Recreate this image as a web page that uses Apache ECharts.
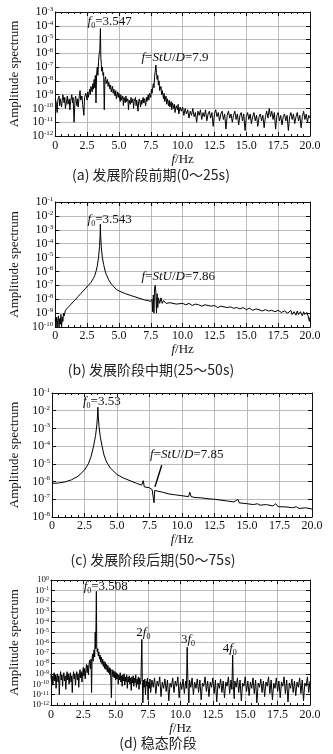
<!DOCTYPE html>
<html><head><meta charset="utf-8">
<script src="https://cdn.jsdelivr.net/npm/echarts@6/dist/echarts.min.js"></script>
<style>html,body{margin:0;padding:0;background:#fff}#c{width:333px;height:754px}</style>
</head><body><div id="c"></div>
<script>
// x tick labels
const xTicks = ['0','2.5','5.0','7.5','10.0','12.5','15.0','17.5','20.0'];
// y ranges (log10 exponent) per panel
const yExpA = [-12, -3], yExpB = [-10, -1], yExpC = [-8, -1], yExpD = [-12, 0];
// captions
const captions = ['(a) 发展阶段前期(0～25s)', '(b) 发展阶段中期(25～50s)', '(c) 发展阶段后期(50～75s)', '(d) 稳态阶段'];
// data: [frequency Hz, log10(amplitude)]
const specA = [[0,-9.3],[0.1,-9.7],[0.15,-10.3],[0.2,-9.4],[0.3,-9.1],[0.35,-9.8],[0.4,-9.3],[0.5,-9.9],[0.55,-9.4],[0.6,-9.0],[0.7,-9.6],[0.75,-9.2],[0.8,-10.0],[0.9,-9.4],[0.95,-9.1],[1.0,-9.7],[1.1,-9.3],[1.15,-10.1],[1.2,-9.5],[1.3,-9.0],[1.35,-9.6],[1.4,-9.2],[1.48,-11.0],[1.55,-9.4],[1.6,-9.1],[1.7,-9.8],[1.75,-9.3],[1.8,-9.9],[1.9,-9.0],[1.95,-8.7],[2.0,-9.4],[2.1,-9.1],[2.15,-9.7],[2.25,-10.5],[2.3,-9.2],[2.4,-8.9],[2.5,-9.4],[2.55,-8.8],[2.6,-9.2],[2.7,-8.6],[2.75,-9.0],[2.8,-8.4],[2.9,-8.8],[2.95,-8.2],[3.0,-8.6],[3.05,-7.9],[3.1,-8.5],[3.15,-7.6],[3.2,-9.6],[3.25,-7.5],[3.3,-7.0],[3.35,-7.6],[3.4,-6.6],[3.45,-6.0],[3.5,-5.8],[3.547,-4.2],[3.58,-6.3],[3.62,-6.8],[3.65,-7.3],[3.7,-7.0],[3.75,-7.6],[3.8,-7.4],[3.85,-10.1],[3.9,-7.9],[3.95,-7.7],[4.0,-8.2],[4.1,-7.9],[4.15,-8.4],[4.2,-8.1],[4.3,-8.6],[4.35,-8.3],[4.4,-8.8],[4.5,-8.4],[4.55,-8.9],[4.6,-8.6],[4.7,-9.1],[4.75,-8.7],[4.8,-9.3],[4.9,-8.8],[4.95,-9.2],[5.0,-8.9],[5.1,-9.5],[5.15,-9.0],[5.2,-9.4],[5.3,-9.1],[5.35,-9.8],[5.4,-9.2],[5.5,-9.6],[5.55,-9.1],[5.6,-9.5],[5.7,-9.3],[5.75,-10.1],[5.8,-9.4],[5.9,-9.7],[5.95,-9.2],[6.0,-9.6],[6.1,-9.3],[6.15,-10.0],[6.2,-9.5],[6.3,-9.2],[6.35,-9.8],[6.4,-9.4],[6.5,-10.2],[6.55,-9.5],[6.6,-9.3],[6.7,-9.9],[6.75,-9.4],[6.8,-9.7],[6.9,-9.2],[6.95,-9.6],[7.0,-9.3],[7.1,-9.8],[7.15,-9.2],[7.2,-9.5],[7.3,-9.0],[7.35,-9.4],[7.4,-8.9],[7.5,-9.2],[7.55,-8.6],[7.6,-8.9],[7.7,-8.2],[7.75,-8.5],[7.8,-7.7],[7.85,-7.3],[7.9,-6.85],[7.95,-7.4],[8.0,-7.9],[8.05,-7.6],[8.1,-8.3],[8.15,-8.0],[8.2,-8.7],[8.3,-8.4],[8.35,-9.0],[8.4,-8.7],[8.5,-9.3],[8.55,-8.9],[8.6,-9.5],[8.7,-9.1],[8.75,-9.7],[8.8,-9.3],[8.9,-9.8],[8.95,-9.4],[9.0,-9.9],[9.1,-9.5],[9.15,-10.1],[9.2,-9.6],[9.3,-10.0],[9.35,-9.7],[9.4,-10.3],[9.5,-9.8],[9.6,-10.1],[9.65,-9.7],[9.7,-10.4],[9.8,-9.9],[9.9,-10.2],[10.0,-9.9],[10.1,-10.5],[10.2,-10.0],[10.3,-10.4],[10.4,-10.1],[10.5,-10.7],[10.6,-10.2],[10.7,-10.5],[10.8,-10.0],[10.9,-10.6],[11.0,-10.3],[11.1,-11.0],[11.2,-10.2],[11.3,-10.5],[11.4,-10.1],[11.5,-10.8],[11.6,-10.3],[11.7,-10.6],[11.8,-10.1],[11.9,-10.9],[12.0,-10.4],[12.1,-10.2],[12.2,-10.7],[12.3,-10.3],[12.4,-11.3],[12.5,-10.4],[12.6,-10.1],[12.7,-10.6],[12.8,-10.3],[12.9,-10.9],[13.0,-10.4],[13.1,-10.2],[13.2,-10.8],[13.3,-10.4],[13.4,-11.5],[13.5,-10.5],[13.6,-10.2],[13.7,-10.7],[13.8,-10.4],[13.9,-11.0],[14.0,-10.5],[14.1,-10.2],[14.2,-10.8],[14.3,-10.4],[14.4,-11.2],[14.5,-10.5],[14.6,-10.3],[14.7,-10.9],[14.8,-10.4],[14.9,-11.6],[15.0,-10.6],[15.1,-10.3],[15.2,-10.8],[15.3,-10.4],[15.4,-11.1],[15.5,-10.6],[15.6,-10.3],[15.7,-10.9],[15.8,-10.5],[15.9,-11.3],[16.0,-10.6],[16.1,-10.4],[16.2,-10.9],[16.3,-10.5],[16.4,-11.4],[16.5,-10.6],[16.6,-10.2],[16.7,-10.7],[16.8,-10.0],[16.9,-10.6],[17.0,-10.2],[17.1,-10.8],[17.2,-10.3],[17.3,-11.5],[17.4,-10.5],[17.5,-10.3],[17.6,-10.9],[17.7,-10.5],[17.8,-11.2],[17.9,-10.6],[18.0,-10.4],[18.1,-10.9],[18.2,-10.5],[18.3,-11.6],[18.4,-10.6],[18.5,-10.3],[18.6,-10.8],[18.7,-10.4],[18.8,-11.1],[18.9,-10.6],[19.0,-10.3],[19.1,-10.9],[19.2,-10.5],[19.3,-11.4],[19.4,-10.6],[19.5,-10.2],[19.6,-10.8],[19.7,-10.4],[19.8,-11.0],[19.9,-10.5],[20.0,-10.7]];
const specB = [[0,-9.4],[0.05,-10.0],[0.1,-9.3],[0.15,-10.0],[0.2,-9.5],[0.25,-9.2],[0.3,-10.0],[0.35,-9.4],[0.4,-9.8],[0.45,-9.1],[0.5,-10.0],[0.55,-9.3],[0.6,-9.6],[0.65,-9.0],[0.7,-9.2],[0.8,-8.8],[0.9,-8.9],[1.0,-8.6],[1.1,-8.7],[1.2,-8.4],[1.3,-8.5],[1.4,-8.2],[1.5,-8.3],[1.6,-8.0],[1.7,-8.1],[1.8,-7.8],[1.9,-7.9],[2.0,-7.6],[2.2,-7.4],[2.4,-7.2],[2.6,-7.0],[2.8,-6.8],[3.0,-6.5],[3.1,-6.3],[3.2,-6.0],[3.3,-5.6],[3.4,-5.0],[3.48,-4.2],[3.52,-3.4],[3.543,-2.6],[3.57,-3.5],[3.62,-4.3],[3.7,-5.0],[3.8,-5.5],[3.9,-5.9],[4.0,-6.2],[4.2,-6.6],[4.4,-6.9],[4.6,-7.1],[4.8,-7.3],[5.0,-7.4],[5.5,-7.6],[6.0,-7.75],[6.5,-7.9],[7.0,-8.05],[7.3,-8.1],[7.5,-8.15],[7.6,-8.0],[7.65,-8.9],[7.7,-7.7],[7.75,-9.0],[7.8,-7.2],[7.85,-7.0],[7.9,-7.5],[7.95,-9.0],[8.0,-7.6],[8.05,-8.6],[8.1,-7.9],[8.2,-8.3],[8.3,-7.9],[8.4,-8.3],[8.5,-8.1],[8.7,-8.3],[9.0,-8.25],[9.5,-8.35],[10.0,-8.3],[10.25,-8.4],[10.5,-8.3],[10.75,-8.45],[11.0,-8.35],[11.25,-8.4],[11.5,-8.5],[11.75,-8.4],[12.0,-8.45],[12.25,-8.5],[12.5,-8.45],[12.75,-8.6],[13.0,-8.5],[13.25,-8.55],[13.5,-8.6],[13.75,-8.55],[14.0,-8.65],[14.25,-8.6],[14.5,-8.7],[14.75,-8.6],[15.0,-8.75],[15.25,-8.65],[15.5,-8.8],[15.75,-8.7],[16.0,-8.75],[16.25,-8.85],[16.5,-8.75],[16.75,-8.85],[17.0,-8.8],[17.25,-8.9],[17.5,-8.8],[17.75,-8.95],[18.0,-8.85],[18.25,-9.0],[18.5,-8.8],[18.6,-9.1],[18.75,-8.9],[18.9,-9.15],[19.0,-8.85],[19.1,-9.1],[19.25,-8.9],[19.4,-9.2],[19.5,-8.9],[19.6,-9.1],[19.75,-8.95],[19.85,-9.2],[19.95,-9.6],[20.0,-9.3]];
const specC = [[0,-6.1],[0.5,-6.08],[1.0,-6.02],[1.5,-5.9],[2.0,-5.7],[2.5,-5.35],[2.8,-5.0],[3.0,-4.6],[3.2,-4.0],[3.35,-3.4],[3.45,-2.8],[3.5,-2.3],[3.53,-1.8],[3.56,-2.3],[3.62,-2.9],[3.72,-3.5],[3.85,-4.0],[4.0,-4.5],[4.2,-4.9],[4.5,-5.25],[5.0,-5.6],[5.5,-5.8],[6.0,-5.95],[6.5,-6.1],[6.9,-6.2],[7.02,-5.95],[7.1,-6.3],[7.5,-6.35],[7.7,-6.45],[7.8,-6.4],[7.85,-7.2],[7.9,-6.5],[8.0,-6.55],[8.5,-6.6],[9.0,-6.7],[9.5,-6.75],[10.0,-6.8],[10.5,-6.85],[10.6,-6.6],[10.7,-6.85],[11.0,-6.9],[11.5,-6.92],[12.0,-6.97],[12.5,-7.0],[13.0,-7.05],[13.5,-7.1],[14.0,-7.15],[14.3,-7.0],[14.4,-7.2],[15.0,-7.25],[15.5,-7.3],[15.8,-7.25],[16.0,-7.33],[16.5,-7.3],[17.0,-7.38],[17.2,-7.25],[17.4,-7.42],[18.0,-7.43],[18.5,-7.48],[18.8,-7.42],[19.0,-7.52],[19.5,-7.48],[20.0,-7.55]];
const specD = [[0,-9.0],[0.05,-9.8],[0.1,-9.2],[0.15,-10.1],[0.2,-9.4],[0.25,-8.9],[0.3,-9.7],[0.35,-9.1],[0.4,-10.4],[0.45,-9.3],[0.5,-9.0],[0.55,-9.8],[0.6,-9.2],[0.65,-11.0],[0.7,-9.4],[0.75,-8.8],[0.8,-9.6],[0.85,-9.1],[0.9,-10.2],[0.95,-9.3],[1.0,-8.9],[1.05,-9.7],[1.1,-9.2],[1.15,-10.5],[1.2,-9.4],[1.25,-8.8],[1.3,-9.6],[1.35,-9.0],[1.4,-10.0],[1.45,-9.3],[1.5,-8.9],[1.55,-9.8],[1.6,-9.2],[1.65,-10.8],[1.7,-9.4],[1.75,-8.8],[1.8,-9.5],[1.85,-9.0],[1.9,-10.1],[1.95,-9.2],[2.0,-8.8],[2.05,-9.6],[2.1,-9.0],[2.15,-10.3],[2.2,-9.1],[2.25,-8.6],[2.3,-9.4],[2.35,-8.8],[2.4,-9.8],[2.45,-8.9],[2.5,-8.4],[2.55,-9.2],[2.6,-8.5],[2.65,-9.5],[2.7,-8.6],[2.75,-8.1],[2.8,-8.9],[2.85,-8.2],[2.9,-9.1],[2.95,-8.0],[3.0,-7.7],[3.05,-8.5],[3.1,-7.6],[3.14,-10.8],[3.18,-7.5],[3.22,-7.1],[3.26,-7.8],[3.3,-7.0],[3.34,-6.7],[3.38,-7.4],[3.42,-5.0],[3.46,-6.6],[3.508,-1.1],[3.54,-6.4],[3.58,-6.9],[3.62,-6.6],[3.66,-7.3],[3.7,-6.9],[3.75,-7.6],[3.8,-7.2],[3.85,-7.9],[3.9,-7.4],[3.95,-8.1],[4.0,-7.6],[4.05,-8.3],[4.1,-7.8],[4.15,-8.5],[4.2,-7.9],[4.25,-8.6],[4.3,-8.1],[4.35,-8.8],[4.4,-8.2],[4.45,-8.9],[4.5,-8.4],[4.55,-9.1],[4.6,-8.5],[4.67,-11.3],[4.72,-8.6],[4.8,-9.3],[4.85,-8.7],[4.9,-9.4],[4.95,-8.8],[5.0,-9.6],[5.05,-8.9],[5.1,-9.5],[5.15,-9.0],[5.2,-10.0],[5.25,-9.1],[5.3,-9.6],[5.35,-8.9],[5.4,-9.8],[5.45,-9.2],[5.5,-10.2],[5.55,-9.1],[5.6,-9.7],[5.65,-9.0],[5.7,-10.1],[5.75,-9.3],[5.8,-9.8],[5.85,-9.1],[5.9,-10.4],[5.95,-9.3],[6.0,-9.8],[6.05,-9.2],[6.1,-10.0],[6.15,-9.4],[6.2,-10.6],[6.25,-9.3],[6.3,-9.9],[6.35,-9.2],[6.4,-10.2],[6.45,-9.4],[6.5,-9.9],[6.55,-9.1],[6.6,-10.3],[6.65,-9.5],[6.7,-10.0],[6.75,-9.3],[6.8,-10.5],[6.85,-9.4],[6.9,-10.0],[6.95,-9.6],[7.02,-5.7],[7.06,-9.8],[7.1,-11.8],[7.15,-9.6],[7.2,-10.3],[7.25,-9.5],[7.3,-11.0],[7.35,-9.7],[7.4,-10.2],[7.45,-9.4],[7.5,-11.5],[7.55,-9.8],[7.6,-10.4],[7.65,-9.5],[7.7,-10.8],[7.8,-9.6],[7.9,-10.3],[8.0,-9.4],[8.1,-10.9],[8.2,-9.7],[8.3,-10.2],[8.4,-9.3],[8.5,-11.2],[8.6,-9.8],[8.7,-10.4],[8.8,-9.5],[8.9,-10.7],[9.0,-9.6],[9.1,-11.6],[9.2,-9.9],[9.3,-10.3],[9.4,-9.4],[9.5,-10.8],[9.6,-9.7],[9.7,-10.2],[9.8,-9.3],[9.9,-11.3],[10.0,-9.8],[10.1,-10.5],[10.2,-9.5],[10.3,-10.9],[10.4,-9.7],[10.46,-10.4],[10.52,-6.45],[10.58,-10.0],[10.65,-11.8],[10.7,-9.6],[10.8,-10.3],[10.9,-9.4],[11.0,-11.0],[11.1,-9.8],[11.2,-10.4],[11.3,-9.5],[11.4,-10.8],[11.5,-9.6],[11.6,-11.5],[11.7,-9.9],[11.8,-10.2],[11.9,-9.3],[12.0,-10.7],[12.1,-9.7],[12.2,-11.2],[12.3,-9.8],[12.4,-10.3],[12.5,-9.4],[12.6,-10.9],[12.7,-9.6],[12.8,-11.7],[12.9,-9.9],[13.0,-10.4],[13.1,-9.5],[13.2,-10.8],[13.3,-9.7],[13.4,-11.3],[13.5,-9.8],[13.6,-10.2],[13.7,-9.3],[13.8,-10.9],[13.9,-9.6],[13.97,-10.5],[14.03,-7.2],[14.08,-10.1],[14.15,-11.4],[14.2,-9.7],[14.3,-10.3],[14.4,-9.4],[14.5,-10.8],[14.6,-9.6],[14.7,-11.6],[14.8,-9.9],[14.9,-10.2],[15.0,-9.3],[15.1,-10.7],[15.2,-9.7],[15.3,-11.1],[15.4,-9.8],[15.5,-10.4],[15.6,-9.4],[15.7,-10.9],[15.8,-9.6],[15.9,-11.8],[16.0,-9.9],[16.1,-10.3],[16.2,-9.5],[16.3,-10.8],[16.4,-9.7],[16.5,-11.2],[16.6,-9.8],[16.7,-10.2],[16.8,-9.3],[16.9,-10.9],[17.0,-9.6],[17.1,-11.5],[17.2,-9.9],[17.3,-10.4],[17.4,-9.4],[17.5,-10.7],[17.6,-9.7],[17.7,-11.3],[17.8,-9.8],[17.9,-10.2],[18.0,-9.3],[18.1,-10.9],[18.2,-9.6],[18.3,-11.7],[18.4,-9.9],[18.5,-10.4],[18.6,-9.5],[18.7,-10.8],[18.8,-9.7],[18.9,-11.1],[19.0,-9.8],[19.1,-10.3],[19.2,-9.4],[19.3,-10.9],[19.4,-9.6],[19.5,-11.6],[19.6,-9.9],[19.7,-10.2],[19.8,-9.3],[19.9,-10.8],[20.0,-9.7]];
// annotations: [panel, f, log10 amp, text]
const notes = [
  [0, 2.54, -3.73, '{i|f}{b|0}{n|=3.547}'],
  [0, 6.77, -6.34, '{i|f}{n|=}{i|StU}{n|/}{i|D}{n|=7.9}'],
  [1, 2.54, -2.3, '{i|f}{b|0}{n|=3.543}'],
  [1, 6.77, -6.4, '{i|f}{n|=}{i|StU}{n|/}{i|D}{n|=7.86}'],
  [2, 2.38, -1.49, '{i|f}{b|0}{n|=3.53}'],
  [2, 7.54, -4.49, '{i|f}{n|=}{i|StU}{n|/}{i|D}{n|=7.85}'],
  [3, 2.53, -0.67, '{i|f}{b|0}{n|=3.508}'],
  [3, 6.59, -5.09, '{n|2}{i|f}{b|0}'],
  [3, 10.04, -5.76, '{n|3}{i|f}{b|0}'],
  [3, 13.26, -6.62, '{n|4}{i|f}{b|0}']
];
// arrow in panel c: from [f, exp] to [f, exp]
const arrowC = [[7.92, -6.3], [8.44, -5.07]];

const SERIF = 'Liberation Serif';
const layout = [
  {left:50, top:12, width:260, height:124, lab:12, lh:13, sup:7, nameGap:25, xGap:14, lm:4, cap:175, capX:151},
  {left:50, top:202, width:260, height:125, lab:12, lh:13, sup:7, nameGap:20, xGap:13, lm:3, cap:370, capX:151},
  {left:52, top:393, width:260, height:124, lab:12, lh:13, sup:7, nameGap:21, xGap:15, lm:3, cap:560, capX:153},
  {left:49, top:580, width:261, height:125, lab:9, lh:9, sup:6, nameGap:22, xGap:13, lm:4, cap:743, capX:158}
];
const yExps = [yExpA, yExpB, yExpC, yExpD];
const specs = [specA, specB, specC, specD];

const grid = [], xAxis = [], yAxis = [], series = [];
layout.forEach((L, i) => {
  grid.push({left:L.left, top:L.top, width:L.width, height:L.height, show:false});
  const ye = yExps[i];
  const xBase = {type:'value', gridIndex:i, min:0, max:20, interval:2.5,
    axisLine:{show:true, onZero:false, lineStyle:{color:'#111', width:1}},
    axisTick:{show:true, inside:true, length:4, lineStyle:{color:'#111'}},
    minorTick:{show:true, splitNumber:5, length:2, lineStyle:{color:'#111'}}};
  xAxis.push(Object.assign({}, xBase, {position:'bottom',
    splitLine:{show:true, lineStyle:{color:'#a8a8a8', width:0.8}},
    axisLabel:{fontFamily:SERIF, fontSize:12, color:'#111', margin:L.lm, showMinLabel:true, showMaxLabel:true,
      formatter:(v)=> xTicks[Math.round(v/2.5)]},
    name:'{i|f}/Hz', nameLocation:'middle', nameGap:L.xGap,
    nameTextStyle:{fontFamily:SERIF, fontSize:13, color:'#111', rich:{i:{fontStyle:'italic', fontFamily:SERIF, fontSize:13}}}}));
  xAxis.push(Object.assign({}, xBase, {position:'top', axisLabel:{show:false}, splitLine:{show:false}}));
  const yBase = {type:'log', logBase:10, gridIndex:i, min:Math.pow(10, ye[0]), max:Math.pow(10, ye[1]),
    interval:1, splitNumber: ye[1]-ye[0],
    axisLine:{show:true, onZero:false, lineStyle:{color:'#111', width:1}},
    axisTick:{show:true, inside:true, length:4, lineStyle:{color:'#111'}}};
  yAxis.push(Object.assign({}, yBase, {position:'left',
    splitLine:{show:true, lineStyle:{color:'#a8a8a8', width:0.8}},
    axisLabel:{fontFamily:SERIF, fontSize:L.lab, color:'#111', margin:2, lineHeight:L.lh,
      showMinLabel:true, showMaxLabel:true, hideOverlap:false,
      formatter:(v)=> '10{s|' + Math.round(Math.log10(v)) + '}',
      rich:{s:{fontFamily:SERIF, fontSize:L.sup, lineHeight:L.sup-2, verticalAlign:'top', color:'#111'}}},
    name:'Amplitude spectrum', nameLocation:'middle', nameGap:L.nameGap,
    nameTextStyle:{fontFamily:SERIF, fontSize:13, color:'#111'}}));
  yAxis.push(Object.assign({}, yBase, {position:'right', axisLabel:{show:false}, splitLine:{show:false}}));
  const s = {type:'line', xAxisIndex:2*i, yAxisIndex:2*i, showSymbol:false, symbol:'none',
    data: specs[i].map(p => [p[0], Math.pow(10, p[1])]),
    lineStyle:{color:'#000', width:1}, animation:false, silent:true};
  if (i === 2) {
    s.markLine = {silent:true, symbol:['none','arrow'], symbolSize:[0,11], label:{show:false},
      lineStyle:{color:'#000', width:1.4, type:'solid'},
      data:[[{coord:[arrowC[0][0], Math.pow(10, arrowC[0][1])]}, {coord:[arrowC[1][0], Math.pow(10, arrowC[1][1])]}]]};
  }
  series.push(s);
});

const chart = echarts.init(document.getElementById('c'), null, {renderer:'canvas'});
chart.setOption({animation:false, grid, xAxis, yAxis, series});

const rich = {
  i:{fontFamily:SERIF, fontStyle:'italic', fontSize:13, lineHeight:16, fill:'#111'},
  n:{fontFamily:SERIF, fontSize:13, lineHeight:16, fill:'#111'},
  b:{fontFamily:SERIF, fontSize:8, lineHeight:6, verticalAlign:'bottom', fill:'#111'}
};
const graphic = [];
notes.forEach(n => {
  const p = chart.convertToPixel({xAxisIndex:2*n[0], yAxisIndex:2*n[0]}, [n[1], Math.pow(10, n[2])]);
  graphic.push({type:'text', x:p[0], y:p[1], silent:true,
    style:{text:n[3], rich, verticalAlign:'middle', align:'left', fill:'#111'}});
});
layout.forEach((L, i) => {
  graphic.push({type:'text', x:L.capX, y:L.cap, silent:true,
    style:{text:captions[i], font:'14px "Noto Sans CJK SC", sans-serif', fill:'#222', align:'center', verticalAlign:'middle'}});
});
chart.setOption({graphic});
</script></body></html>
